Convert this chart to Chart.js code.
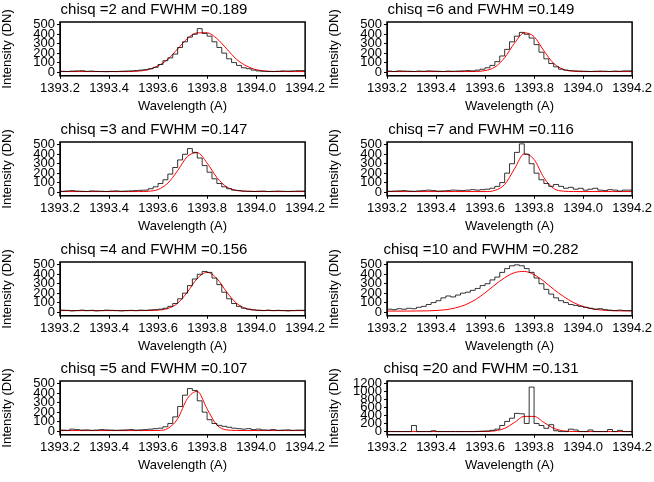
<!DOCTYPE html>
<html><head><meta charset="utf-8">
<script src="https://cdn.jsdelivr.net/npm/chart.js@4.4.0/dist/chart.umd.min.js"></script>
<style>
body{margin:0;background:#fff;width:654px;height:482px;position:relative;overflow:hidden}
.p{position:absolute;width:327px;height:120px}
canvas{display:block}
</style></head><body>
<script>
const histEdges=[1393.20,1393.22,1393.24,1393.26,1393.28,1393.30,1393.32,1393.34,1393.36,1393.38,1393.40,1393.42,1393.44,1393.46,1393.48,1393.50,1393.52,1393.54,1393.56,1393.58,1393.60,1393.62,1393.64,1393.66,1393.68,1393.70,1393.72,1393.74,1393.76,1393.78,1393.80,1393.82,1393.84,1393.86,1393.88,1393.90,1393.92,1393.94,1393.96,1393.98,1394.00,1394.02,1394.04,1394.06,1394.08,1394.10,1394.12,1394.14,1394.16,1394.18,1394.20];
const fitX=[1393.20,1393.24,1393.28,1393.32,1393.36,1393.40,1393.44,1393.48,1393.52,1393.56,1393.60,1393.64,1393.68,1393.72,1393.76,1393.80,1393.84,1393.88,1393.92,1393.96,1394.00,1394.04,1394.08,1394.12,1394.16,1394.20];
const xTicks=[1393.2,1393.4,1393.6,1393.8,1394.0,1394.2];
const yTicks=[0,100,200,300,400,500];
const yTicksBig=[0,200,400,600,800,1000,1200];
const titles=["chisq =2 and FWHM =0.189","chisq =6 and FWHM =0.149","chisq =3 and FWHM =0.147","chisq =7 and FWHM =0.116","chisq =4 and FWHM =0.156","chisq =10 and FWHM =0.282","chisq =5 and FWHM =0.107","chisq =20 and FWHM =0.131"];
const histChi2=[5,8,6,10,12,14,8,10,6,5,4,6,5,8,10,12,15,20,25,35,50,80,120,150,190,260,320,370,400,460,410,380,320,260,200,140,100,70,45,35,20,12,8,6,5,8,12,10,12,15];
const fitChi2=[5,5,5,5,5,5,5,5,10,25,65,135,245,355,415,415,355,245,135,65,25,10,6,5,5,5];
const histChi6=[8,10,6,12,10,8,6,10,8,12,10,8,6,10,8,10,12,15,12,20,30,45,70,110,170,240,320,380,420,400,360,290,210,140,90,55,30,20,15,12,10,8,6,8,10,8,6,10,8,12];
const fitChi6=[5,5,5,5,5,5,5,5,5,6,15,52,152,305,415,375,225,92,28,8,5,5,5,5,5,5];
const histChi3=[10,8,12,15,10,8,6,12,10,8,6,10,12,8,10,12,15,18,20,35,55,90,130,190,260,340,400,460,420,360,280,210,140,90,55,35,20,15,10,8,6,8,10,6,8,10,8,6,8,10];
const fitChi3=[5,5,5,5,5,5,5,5,5,8,27,94,227,377,417,307,154,54,17,8,6,5,5,5,5,5];
const histChi7=[5,8,10,12,15,10,8,12,15,20,15,10,12,15,20,18,15,20,25,20,25,30,40,60,100,200,300,420,510,400,300,200,130,90,60,80,60,40,50,30,40,20,30,40,20,15,25,20,10,20];
const fitChi7=[5,5,5,5,5,5,5,5,5,5,5,17,80,245,405,345,152,37,9,5,5,5,5,5,5,5];
const histChi4=[15,20,18,12,15,20,15,18,12,15,20,18,15,12,15,18,15,20,18,22,25,30,40,60,90,140,200,280,350,400,430,420,360,290,210,140,90,60,40,30,22,18,15,20,15,18,15,12,15,18];
const fitChi4=[15,15,15,15,15,15,15,15,15,16,20,37,93,212,355,420,355,212,93,37,20,16,15,15,15,15];
const histChi10=[20,30,25,35,30,40,35,50,60,80,100,120,150,170,160,180,200,210,230,250,280,300,340,370,420,460,490,500,490,460,420,360,300,240,190,150,120,100,80,70,60,50,40,30,35,25,20,15,20,15];
const fitChi10=[10,10,10,11,12,16,25,44,77,130,203,287,363,417,430,396,326,241,165,102,58,33,20,14,12,11];
const histChi5=[15,10,8,20,15,10,12,8,10,15,12,10,8,10,12,15,10,12,15,20,25,30,45,80,150,260,380,450,430,320,200,120,80,60,50,40,30,25,20,25,15,20,12,10,15,8,10,12,8,10];
const fitChi5=[5,5,5,5,5,5,5,5,5,5,6,27,130,345,420,235,63,12,6,5,5,5,5,5,5,5];
const histChi20=[0,0,0,0,0,0,150,0,0,0,20,0,0,0,0,0,0,0,0,5,10,15,30,60,150,250,330,450,440,200,1100,200,150,80,170,20,0,0,60,40,0,0,40,0,0,0,50,0,30,0];
const fitChi20=[0,0,0,0,0,0,0,0,0,0,2,18,80,225,375,375,225,80,18,2,0,0,0,0,0,0];
const hists=[histChi2,histChi6,histChi3,histChi7,histChi4,histChi10,histChi5,histChi20];
const fits=[fitChi2,fitChi6,fitChi3,fitChi7,fitChi4,fitChi10,fitChi5,fitChi20];
const rowTops=[0,120,240,359];
const F='"Liberation Sans", Arial, sans-serif';
const boxPlugin={id:'box',afterDraw(c){const a=c.chartArea,x=c.ctx;x.save();x.strokeStyle='#000';x.lineWidth=1.5;x.strokeRect(a.left,a.top,a.right-a.left,a.bottom-a.top);x.restore();}};
for(let i=0;i<8;i++){
  const col=i%2,row=Math.floor(i/2);
  const d=document.createElement('div');d.className='p';d.style.left=(col*327)+'px';d.style.top=rowTops[row]+'px';
  const cv=document.createElement('canvas');cv.width=327;cv.height=120;cv.style.width='327px';cv.style.height='120px';
  d.appendChild(cv);document.body.appendChild(d);
  const h=hists[i];
  const hd=histEdges.map((x,k)=>({x:x,y:k<h.length?h[k]:h[h.length-1]}));
  const fd=fitX.map((x,k)=>({x:x,y:fits[i][k]}));
  const big=i===7;
  new Chart(cv,{type:'line',data:{datasets:[
    {data:hd,stepped:'after',borderColor:'#000',borderWidth:0.8,pointRadius:0,fill:false},
    {data:fd,borderColor:'#ff0000',borderWidth:1,pointRadius:0,tension:0.4,cubicInterpolationMode:'monotone',fill:false}
  ]},options:{animation:false,responsive:false,devicePixelRatio:1,
    layout:{padding:{left:0,right:19,top:0,bottom:6}},
    plugins:{legend:{display:false},tooltip:{enabled:false},
      title:{display:true,text:titles[i],color:'#000',font:{family:F,size:15,weight:'normal'},padding:{top:1,bottom:3}}},
    scales:{
      x:{type:'linear',min:1393.2,max:1394.2,
        afterBuildTicks(s){s.ticks=xTicks.map(v=>({value:v}));},
        ticks:{color:'#000',font:{family:F,size:13},padding:2,maxRotation:0,callback:v=>v.toFixed(1)},
        grid:{drawOnChartArea:false,drawTicks:true,tickLength:3,color:'#000'},border:{color:'#000'},
        title:{display:true,text:'Wavelength (A)',color:'#000',font:{family:F,size:13},padding:{top:0,bottom:0}}},
      y:{min:big?-80:-40,max:big?1250:530,
        afterBuildTicks(s){s.ticks=(big?yTicksBig:yTicks).map(v=>({value:v}));},
        ticks:{color:'#000',font:{family:F,size:13},padding:2,autoSkip:false,callback:v=>String(v)},
        grid:{drawOnChartArea:false,drawTicks:true,tickLength:3,color:'#000'},border:{color:'#000'},
        title:{display:true,text:'Intensity (DN)',color:'#000',font:{family:F,size:13},padding:{top:0,bottom:1}},
        afterFit(s){s.width=60;}}
    }},plugins:[boxPlugin]});
}
</script></body></html>
